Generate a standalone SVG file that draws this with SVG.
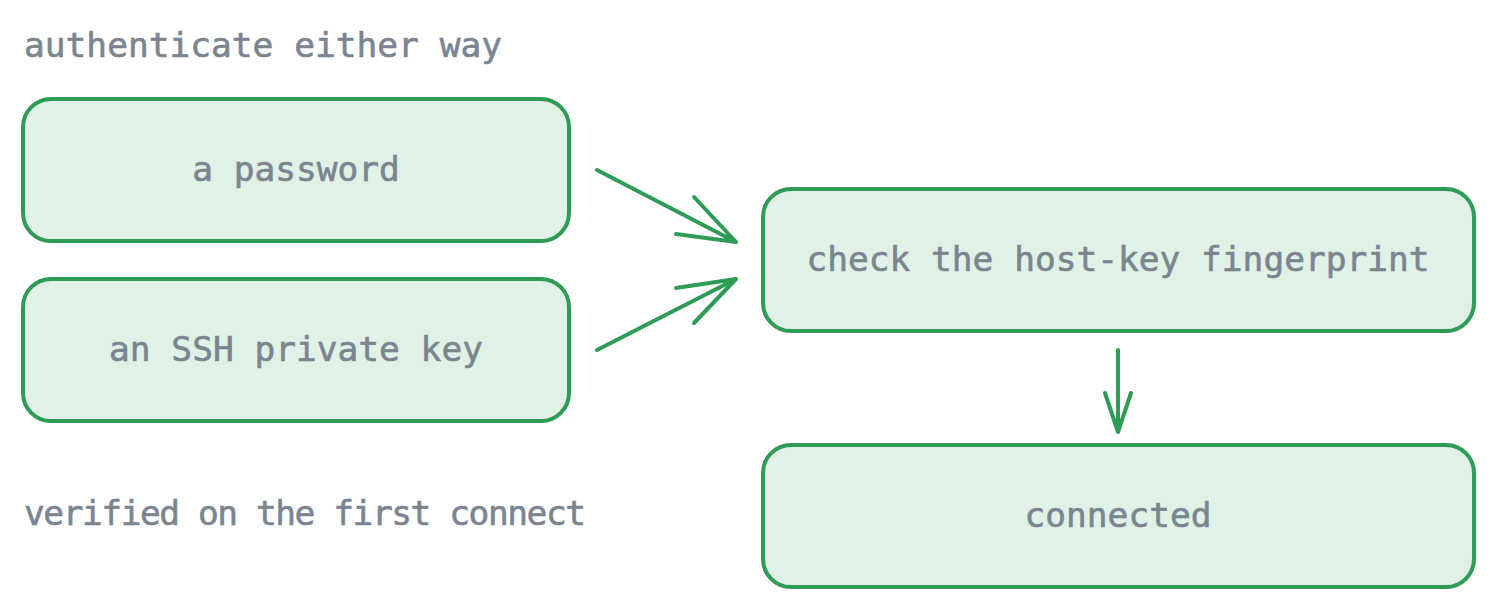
<svg xmlns="http://www.w3.org/2000/svg" width="1498" height="611" viewBox="0 0 1498 611">
<style>
.box{fill:#e0f1e6;stroke:#2e9b57;stroke-width:4}
.t{font-family:"DejaVu Sans Mono",monospace;font-size:34.5px;fill:#7b8590;stroke:#7b8590;stroke-width:0.6}
.c{fill:none;stroke:#2e9b57;stroke-width:4;stroke-linecap:round;stroke-linejoin:round}
</style>
<rect width="1498" height="611" fill="#fff"/>
<text class="t" x="24" y="57" textLength="478">authenticate either way</text>
<text class="t" x="24" y="525" textLength="562">verified on the first connect</text>
<g id="n1"><rect class="box" x="23" y="99" width="546" height="142" rx="28"/><text class="t" x="296" y="181" text-anchor="middle">a password</text></g>
<g id="n2"><rect class="box" x="23" y="279" width="546" height="142" rx="28"/><text class="t" x="296" y="361" text-anchor="middle">an SSH private key</text></g>
<g id="n3"><rect class="box" x="763" y="189" width="711" height="142" rx="28"/><text class="t" x="1118" y="271" text-anchor="middle">check the host-key fingerprint</text></g>
<g id="n4"><rect class="box" x="763" y="445" width="711" height="142" rx="28"/><text class="t" x="1118" y="527" text-anchor="middle">connected</text></g>
<g id="connectors">
<path class="c" d="M597 170L736 242M694 197L736 242L676 234"/>
<path class="c" d="M597 350L736 279M676 288L736 279L694 323"/>
<path class="c" d="M1118 350L1118 432M1105 393L1118 432L1131 393"/>
</g>
</svg>
